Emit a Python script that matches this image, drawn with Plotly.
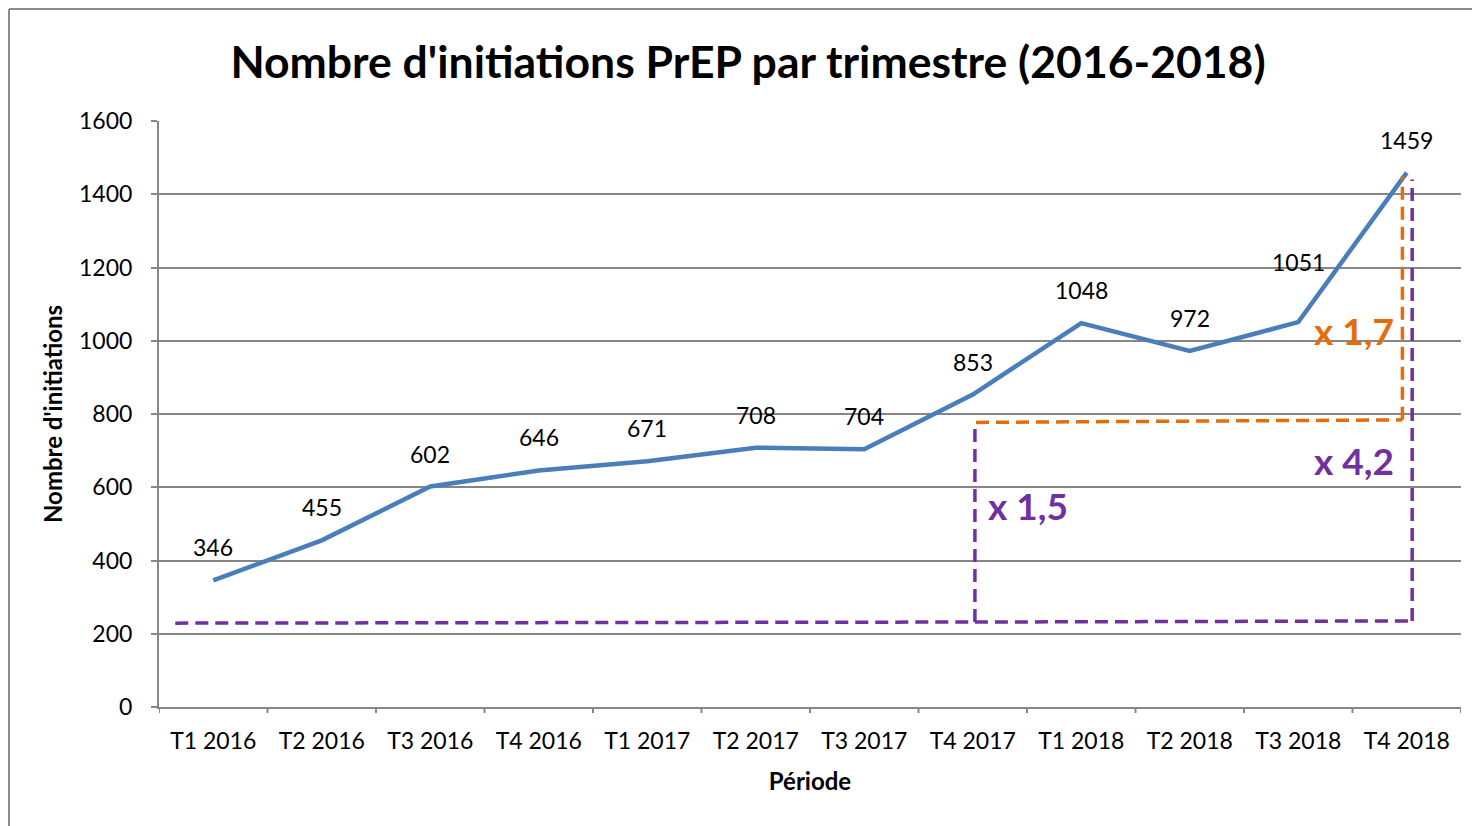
import plotly.graph_objects as go

# Data
periodes = ["T1 2016", "T2 2016", "T3 2016", "T4 2016", "T1 2017", "T2 2017",
            "T3 2017", "T4 2017", "T1 2018", "T2 2018", "T3 2018", "T4 2018"]
initiations = [346, 455, 602, 646, 671, 708, 704, 853, 1048, 972, 1051, 1459]
label_shift = [33, 33, 33, 33, 33, 33, 33, 33, 33, 33, 60, 33]

# Hand-drawn comparison guides (category index, value)
purple_base_x = [-0.35, 7.02, 11.05]
purple_base_y = [229, 232, 235]
purple_left_top = 778
purple_right_top = 1440
orange_x = [7.03, 10.96]
orange_y = [777, 784]
orange_top = 1450
ratio_labels = ["x 1,5", "x 4,2", "x 1,7"]
ratio_x = [7.12, 10.9, 10.9]
ratio_y = [549, 672, 1029]
ratio_colors = ["#7030A0", "#7030A0", "#E46C0A"]

FONT = "Lato"
# the page has an 8px body margin, so the figure is drawn 8px smaller
W, H = 1472, 818
ML, MR, MT, MB = 151, 19, 113, 119
pw, ph = W - ML - MR, H - MT - MB

fig = go.Figure()

fig.add_trace(go.Scatter(
    x=list(range(len(periodes))),
    y=initiations,
    mode="lines",
    line=dict(color="#4A7EBB", width=4.5),
    hoverinfo="skip",
))

for i, v in enumerate(initiations):
    fig.add_annotation(
        x=i, y=v, text=str(v), showarrow=False, yshift=label_shift[i],
        font=dict(family=FONT, size=23, color="black"),
    )

# purple dashed guides
dash_purple = dict(color="#7030A0", width=3.5, dash="13px,7px")
fig.add_shape(type="line", x0=purple_base_x[0], y0=purple_base_y[0],
              x1=purple_base_x[1], y1=purple_base_y[1], line=dash_purple)
fig.add_shape(type="line", x0=purple_base_x[1], y0=purple_base_y[1],
              x1=purple_base_x[2], y1=purple_base_y[2], line=dash_purple)
fig.add_shape(type="line", x0=purple_base_x[1], y0=purple_base_y[1],
              x1=purple_base_x[1], y1=purple_left_top, line=dash_purple)
fig.add_shape(type="line", x0=purple_base_x[2], y0=purple_base_y[2],
              x1=purple_base_x[2], y1=purple_right_top, line=dash_purple)

# orange dashed guides
dash_orange = dict(color="#E46C0A", width=3.5, dash="13px,7px")
fig.add_shape(type="line", x0=orange_x[0], y0=orange_y[0],
              x1=orange_x[1], y1=orange_y[1], line=dash_orange)
fig.add_shape(type="line", x0=orange_x[1], y0=orange_y[1],
              x1=orange_x[1], y1=orange_top, line=dash_orange)

for k, txt in enumerate(ratio_labels):
    fig.add_annotation(
        x=ratio_x[k], y=ratio_y[k], text=f"<b>{txt}</b>", showarrow=False,
        xanchor="left" if k == 0 else "right",
        font=dict(family=FONT, size=37, color=ratio_colors[k]),
    )

# outer frame (only left and top edges are visible)
fx = (1 - ML) / pw
fy = (H - MB - 1) / ph
fig.add_shape(type="line", xref="paper", yref="paper", x0=fx, y0=-1, x1=fx, y1=fy,
              line=dict(color="#8C8C8C", width=2))
fig.add_shape(type="line", xref="paper", yref="paper", x0=fx, y0=fy, x1=2, y1=fy,
              line=dict(color="#8C8C8C", width=2))

# category boundary ticks
for i in range(len(periodes) + 1):
    fig.add_shape(type="line", xref="x", yref="paper", x0=i - 0.5, x1=i - 0.5,
                  y0=0, y1=-6 / ph, line=dict(color="#868686", width=2))

fig.update_layout(
    width=W, height=H,
    margin=dict(l=ML, r=MR, t=MT, b=MB),
    paper_bgcolor="white", plot_bgcolor="white",
    showlegend=False,
    title=dict(text="<b>Nombre d'initiations PrEP par trimestre (2016-2018)</b>",
               x=(748 - 8) / W, xanchor="center", y=1 - 54 / H, yanchor="middle",
               font=dict(family=FONT, size=44.5, color="black")),
    font=dict(family=FONT, color="black"),
)

fig.update_xaxes(
    tickmode="array", tickvals=list(range(len(periodes))), ticktext=periodes,
    range=[-0.5, len(periodes) - 0.5],
    showline=True, linecolor="#868686", linewidth=2,
    ticks="", ticklabelstandoff=12,
    showgrid=False, zeroline=False,
    tickfont=dict(family=FONT, size=23, color="black"),
    title=dict(text="<b>Période</b>", font=dict(family=FONT, size=24, color="black"),
               standoff=21),
)

fig.update_yaxes(
    range=[0, 1600], tickmode="linear", dtick=200,
    showline=True, linecolor="#868686", linewidth=2,
    ticks="outside", ticklen=6, tickcolor="#868686", tickwidth=2,
    ticklabelstandoff=14,
    showgrid=True, gridcolor="#868686", gridwidth=1.5, zeroline=False,
    tickfont=dict(family=FONT, size=23, color="black"),
    title=dict(text="<b>Nombre d'initiations</b>",
               font=dict(family=FONT, size=24, color="black"), standoff=10),
)

fig.write_html("out.html")
